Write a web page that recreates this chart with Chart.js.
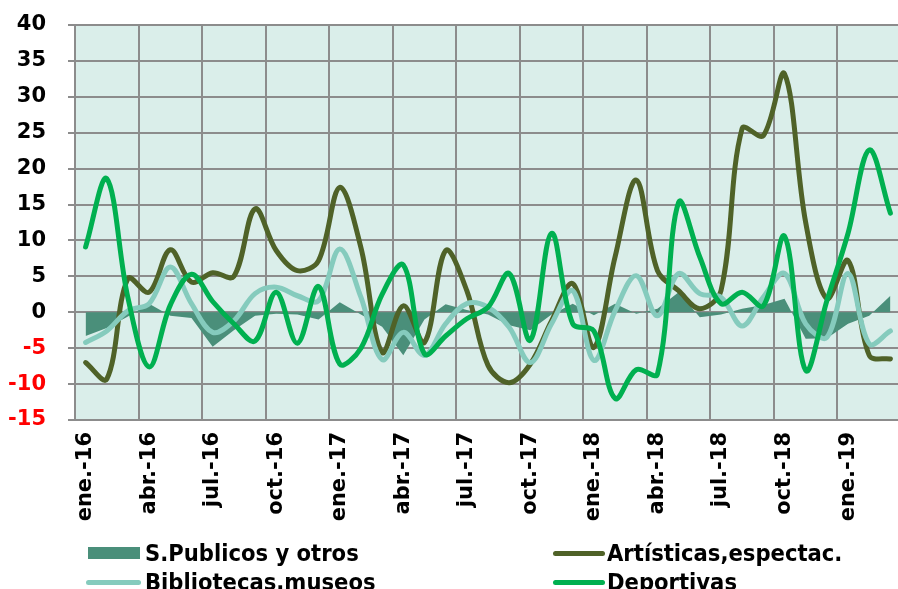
<!DOCTYPE html>
<html>
<head>
<meta charset="utf-8">
<script src="https://cdn.jsdelivr.net/npm/chart.js@4.4.0/dist/chart.umd.min.js"></script>
<style>
  html, body { margin: 0; padding: 0; background: #fff; overflow: hidden; }
  #wrap { position: relative; width: 901px; height: 589px; }
  .item { position: absolute; height: 28px; display: flex; align-items: center;
          font: bold 23.5px "DejaVu Sans Condensed", "DejaVu Sans", sans-serif; color: #000; white-space: nowrap; }
  .caja { display: inline-block; width: 52px; height: 12px; margin-right: 5px; }
  .linea { display: inline-block; width: 52px; height: 5px; border-radius: 3px; margin-right: 2px; }
</style>
</head>
<body>
<div id="wrap">
  <canvas id="grafico" width="901" height="589"></canvas>
  <div class="item" style="left:88px; top:539px;"><span class="caja" style="background:#4a8f7a"></span>S.Publicos y otros</div>
  <div class="item" style="left:553px; top:539px;"><span class="linea" style="background:#4f6228"></span>Artísticas,espectac.</div>
  <div class="item" style="left:86px; top:568px;"><span class="linea" style="background:#85cbbd; width:55px; margin-right:4px"></span>Bibliotecas,museos</div>
  <div class="item" style="left:553px; top:568px;"><span class="linea" style="background:#00b050"></span>Deportivas</div>
</div>
<script>
// meses (ene-16 a mar-19)
const meses = [
  'ene.-16','feb.-16','mar.-16','abr.-16','may.-16','jun.-16','jul.-16','ago.-16','sep.-16','oct.-16','nov.-16','dic.-16',
  'ene.-17','feb.-17','mar.-17','abr.-17','may.-17','jun.-17','jul.-17','ago.-17','sep.-17','oct.-17','nov.-17','dic.-17',
  'ene.-18','feb.-18','mar.-18','abr.-18','may.-18','jun.-18','jul.-18','ago.-18','sep.-18','oct.-18','nov.-18','dic.-18',
  'ene.-19','feb.-19','mar.-19'
];

// series
const sPublicos = [-3.3, -2.2, -0.6, 1.2, -0.5, -0.8, -4.8, -2.5, -0.5, -0.2, -0.3, -1.0,
  1.4, -0.3, -2.0, -6.0, -1.0, 1.1, 0.3, -0.3, -1.8, -2.5, -0.3, 1.2,
  -0.4, 1.2, -0.2, 0.5, 2.8, -0.7, -0.3, 0.5, 1.0, 1.9, -3.7, -3.6,
  -1.6, -0.5, 2.3];

const artisticas = [-7.0, -9.3, 4.7, 2.8, 8.7, 4.2, 5.5, 5.0, 14.4, 8.6, 5.8, 7.2,
  17.4, 9.0, -5.6, 0.9, -4.2, 8.6, 3.0, -7.4, -9.8, -7.2, -1.2, 4.0,
  -4.9, 7.7, 18.4, 5.8, 3.0, 0.5, 3.0, 25.6, 24.6, 33.2, 12.5, 1.9,
  7.2, -6.0, -6.5];

const bibliotecas = [-4.2, -2.6, 0.2, 1.2, 6.3, 1.2, -2.8, -1.2, 2.6, 3.5, 2.3, 1.6,
  8.8, 2.1, -6.6, -2.8, -6.0, -1.6, 1.2, 0.7, -2.1, -7.0, -1.6, 3.0,
  -6.7, 0.2, 5.1, -0.5, 5.4, 2.6, 2.1, -1.9, 2.1, 5.4, -1.6, -3.5,
  5.4, -4.4, -2.6];

const deportivas = [9.1, 18.6, 2.0, -7.6, 1.0, 5.3, 1.5, -1.6, -4.0, 2.8, -4.3, 3.6,
  -7.2, -5.0, 2.5, 6.6, -5.8, -3.3, -0.9, 0.7, 5.4, -3.9, 11.0, -1.6,
  -2.6, -12.0, -8.0, -8.6, 15.3, 7.7, 1.2, 2.8, 0.9, 10.6, -8.1, 1.6,
  11.0, 22.6, 13.8];

// fondo verde claro del area del grafico
const fondo = {
  id: 'fondo',
  beforeDraw(chart) {
    const a = chart.chartArea;
    const ctx = chart.ctx;
    ctx.save();
    ctx.fillStyle = '#daeeea';
    ctx.fillRect(a.left, a.top, a.right - a.left, a.bottom - a.top);
    ctx.restore();
  }
};

const fuente = { family: 'DejaVu Sans', size: 21, weight: 'bold' };
const gris = '#8c8c8c';

function linea(label, data, color, orden) {
  return {
    label: label, data: data, borderColor: color, backgroundColor: color,
    borderWidth: 5, tension: 0.35, fill: false, order: orden,
    borderCapStyle: 'round', borderJoinStyle: 'round', pointRadius: 0
  };
}

new Chart(document.getElementById('grafico'), {
  type: 'line',
  data: {
    labels: meses,
    datasets: [
      { label: 'S.Publicos y otros', data: sPublicos, fill: 'origin', backgroundColor: '#4a8f7a',
        borderWidth: 0, borderColor: '#4a8f7a', tension: 0, pointRadius: 0, order: 4 },
      linea('Artísticas,espectac.', artisticas, '#4f6228', 3),
      linea('Bibliotecas,museos', bibliotecas, '#85cbbd', 2),
      linea('Deportivas', deportivas, '#00b050', 1)
    ]
  },
  options: {
    responsive: false,
    animation: false,
    layout: { padding: { top: 25, right: 0, bottom: 59, left: 0 } },
    plugins: { legend: { display: false }, tooltip: { enabled: false } },
    scales: {
      x: {
        offset: true,
        grid: { offset: true, drawTicks: false, lineWidth: 2,
                color: c => (c.index % 3 === 0 ? gris : 'transparent') },
        border: { display: false },
        ticks: { autoSkip: false, minRotation: 90, maxRotation: 90, padding: 12, color: '#000', font: fuente,
                 callback: (v, i) => (i % 3 === 0 ? meses[i] : '') },
        afterFit: s => { s.height = 110; s.paddingLeft = 0; s.paddingRight = 0; }
      },
      y: {
        min: -15, max: 40,
        grid: { color: gris, lineWidth: 2, tickLength: 7 },
        border: { display: false },
        ticks: { stepSize: 5, padding: 22, font: fuente,
                 color: c => (c.tick.value < 0 ? '#ff0000' : '#000') },
        afterFit: s => { s.width = 75; s.paddingTop = 0; s.paddingBottom = 0; }
      }
    }
  },
  plugins: [fondo]
});
</script>
</body>
</html>
